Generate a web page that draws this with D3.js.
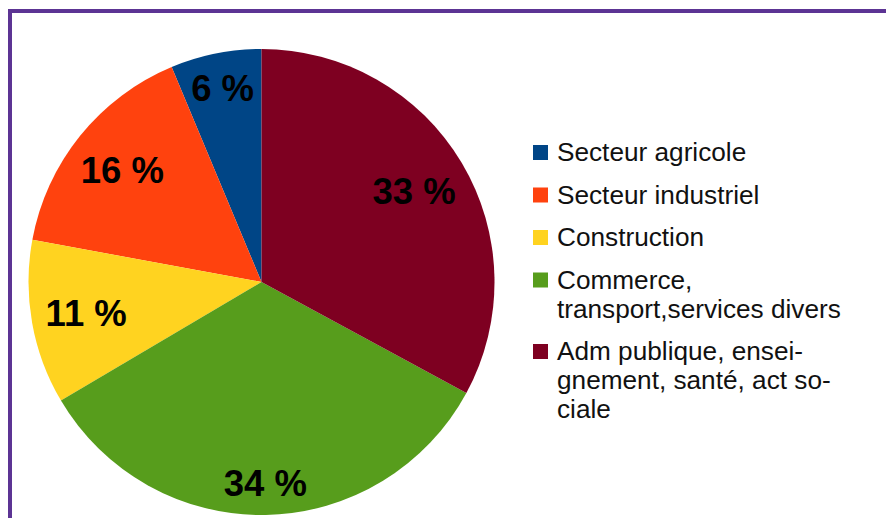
<!DOCTYPE html>
<html>
<head>
<meta charset="utf-8">
<script src="https://cdn.jsdelivr.net/npm/d3@7"></script>
<style>
  html, body { margin: 0; padding: 0; background: #fff; }
  svg { display: block; font-family: "Liberation Sans", Arial, sans-serif; }
</style>
</head>
<body>
<svg id="chart" width="886" height="518"></svg>
<script>
// data, in legend order (LibreOffice draws them counter-clockwise from 12 o'clock)
const categories = ["Secteur agricole", "Secteur industriel", "Construction",
    "Commerce, transport,services divers", "Adm publique, enseignement, santé, act sociale"];
const values = [6.3, 15.8, 11.4, 33.6, 32.9];   // shares
const legendLines = [
    ["Secteur agricole"],
    ["Secteur industriel"],
    ["Construction"],
    ["Commerce,", "transport,services divers"],
    ["Adm publique, ensei-", "gnement, santé, act so-", "ciale"]
];
const colors = ["#004586", "#ff420e", "#ffd320", "#579d1c", "#7e0021"];

const svg = d3.select("#chart");

// purple frame (only top and left edges visible)
svg.append("rect")
    .attr("x", 10).attr("y", 11)
    .attr("width", 1000).attr("height", 1000)
    .attr("fill", "none")
    .attr("stroke", "#5c3494")
    .attr("stroke-width", 4);

const cx = 261.5, cy = 282, radius = 233;

const color = d3.scaleOrdinal().domain(categories).range(colors);

const pie = d3.pie()
    .sort(null)
    .value(d => d.value)
    .startAngle(0)
    .endAngle(-2 * Math.PI);

const arc = d3.arc().innerRadius(0).outerRadius(radius);

const data = categories.map((c, i) => ({ name: c, value: values[i] }));
const total = d3.sum(values);
const arcs = pie(data);

const g = svg.append("g").attr("transform", `translate(${cx},${cy})`);

g.selectAll("path")
    .data(arcs)
    .enter()
    .append("path")
    .attr("d", arc)
    .attr("fill", d => color(d.data.name));

// percentage labels: the outer corner of each label box sits on a circle
const fs = 36.5, capH = fs * 0.716, cornerR = 218;
g.selectAll("text.pct")
    .data(arcs)
    .enter()
    .append("text")
    .attr("class", "pct")
    .attr("text-anchor", "middle")
    .attr("font-size", fs)
    .attr("font-weight", "bold")
    .attr("fill", "#000")
    .text(d => Math.round(d.data.value / total * 100) + " %")
    .each(function(d) {
        const hw = this.getBBox().width * 0.94 / 2, hh = capH / 2;
        const a = (d.startAngle + d.endAngle) / 2;
        const sx = Math.sin(a), sy = -Math.cos(a);
        const b = Math.abs(sx) * hw + Math.abs(sy) * hh;
        const r = -b + Math.sqrt(b * b - (hw * hw + hh * hh - cornerR * cornerR));
        d3.select(this)
            .attr("x", sx * r)
            .attr("y", sy * r + hh);
    });

// legend
const legend = svg.append("g").attr("transform", "translate(533,0)");
let baseline = 161;
legendLines.forEach((lines, i) => {
    const item = legend.append("g");
    item.append("rect")
        .attr("x", 0)
        .attr("y", baseline - 16)
        .attr("width", 15)
        .attr("height", 15)
        .attr("fill", color(categories[i]));
    item.append("text")
        .attr("font-size", 26.2)
        .attr("fill", "#111")
        .selectAll("tspan")
        .data(lines)
        .enter()
        .append("tspan")
        .attr("x", 24)
        .attr("y", (d, j) => baseline + j * 29)
        .text(d => d);
    baseline += lines.length * 29 + 13.5;
});
</script>
</body>
</html>
